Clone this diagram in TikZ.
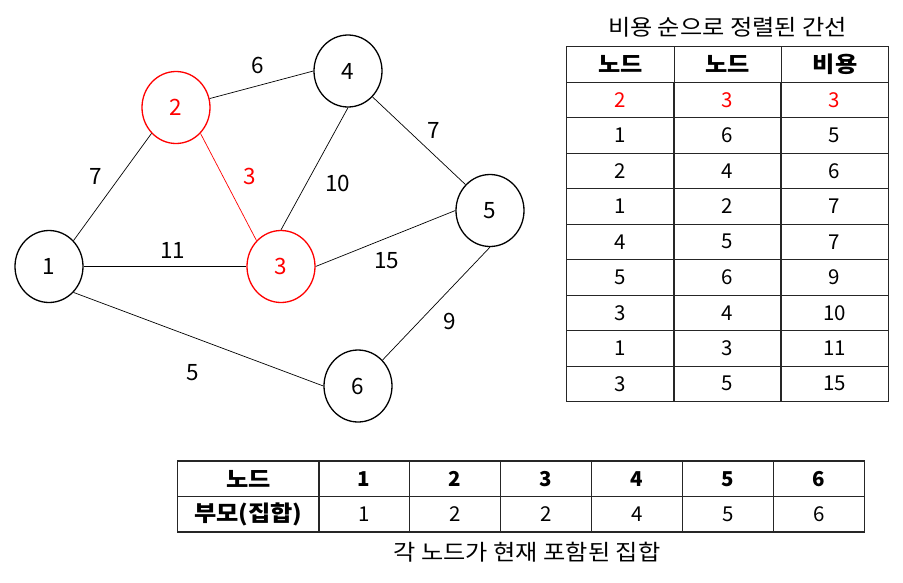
\documentclass[tikz,border=0pt]{standalone}
\usepackage{fontspec}
\setmainfont{Noto Sans CJK KR}
\newfontfamily\kr[FakeStretch=1.1]{Noto Sans CJK KR}
\newcommand\hangul{\kr\fontsize{22}{26}\selectfont}
\usetikzlibrary{shapes.geometric}

\begin{document}
\begin{tikzpicture}[x=1pt, y=-1pt, font=\fontsize{22.5}{27}\selectfont,
	vertex/.style = {ellipse, draw, line width=1.3pt, minimum width=68pt, minimum height=72pt, inner sep=0pt},
	picked/.style = {draw=red, text=red},
	link/.style = {line width=0.7pt},
	cell/.style = {draw=black!85, line width=1.1pt, minimum height=35.5pt, inner sep=0pt, font=\fontsize{20.5}{24}\selectfont}]
	\useasboundingbox (0,0) rectangle (903,582);
	\node[vertex] (v1) at (49,266.5) {1};
	\node[vertex, picked] (v2) at (176,107.5) {2};
	\node[vertex, picked] (v3) at (281,266.5) {3};
	\node[vertex] (v4) at (348,71) {4};
	\node[vertex] (v5) at (490,210.5) {5};
	\node[vertex] (v6) at (358,386) {6};
	\path[link]
		(v1.north east) edge (v2.south west)
		(v2) edge (v4.west)
		(v2.south east) edge[red] (v3.north west)
		(v1) edge (v3)
		(v1.south east) edge (v6.west)
		(v3.north) edge (v4.south)
		(v4.south east) edge (v5.north west)
		(v3.east) edge (v5.west)
		(v5.south) edge (v6.north east);
	\node (w12) at (95.7,176) {7};
	\node (w24) at (258,65) {6};
	\node[text=red] (w23) at (250,176.7) {3};
	\node (w13) at (172.7,250) {11};
	\node (w34) at (337.7,183.3) {10};
	\node (w45) at (434,130) {7};
	\node (w35) at (386.7,261) {15};
	\node (w56) at (449.3,321) {9};
	\node (w16) at (193,373) {5};

	\node (title) at (727.5,27) {\hangul 비용 순으로 정렬된 간선};
	\foreach \h [count=\c] in {노드,노드,비용}
		\node[cell, minimum width=107.3pt] (eh\c) at (513.2+107.3*\c,64.3) {\hangul\bfseries\h};
	\foreach \col/\a/\b/\w [count=\r] in {red/2/3/3, black/1/6/5, black/2/4/6, black/1/2/7, black/4/5/7, black/5/6/9, black/3/4/10, black/1/3/11, black/3/5/15} {
		\node[cell, minimum width=107.3pt, text=\col] (ea\r) at (620.5,64.3+35.5*\r) {\a};
		\node[cell, minimum width=107.3pt, text=\col] (eb\r) at (727.5,64.3+35.5*\r) {\b};
		\node[cell, minimum width=107.3pt, text=\col] (ew\r) at (834.5,64.3+35.5*\r) {\w};
	}

	\node[cell, minimum width=142pt] (nh) at (248.3,478.7) {\hangul\bfseries 노드};
	\node[cell, minimum width=142pt] (ph) at (248.3,514.2) {\hangul\bfseries 부모(집합)};
	\foreach \n/\p in {1/1, 2/2, 3/2, 4/4, 5/5, 6/6} {
		\node[cell, minimum width=91pt] (n\n) at (273.2+91*\n,478.7) {\bfseries\n};
		\node[cell, minimum width=91pt] (p\n) at (273.2+91*\n,514.2) {\p};
	}
	\node (caption) at (527,552) {\hangul 각 노드가 현재 포함된 집합};
\end{tikzpicture}
\end{document}
